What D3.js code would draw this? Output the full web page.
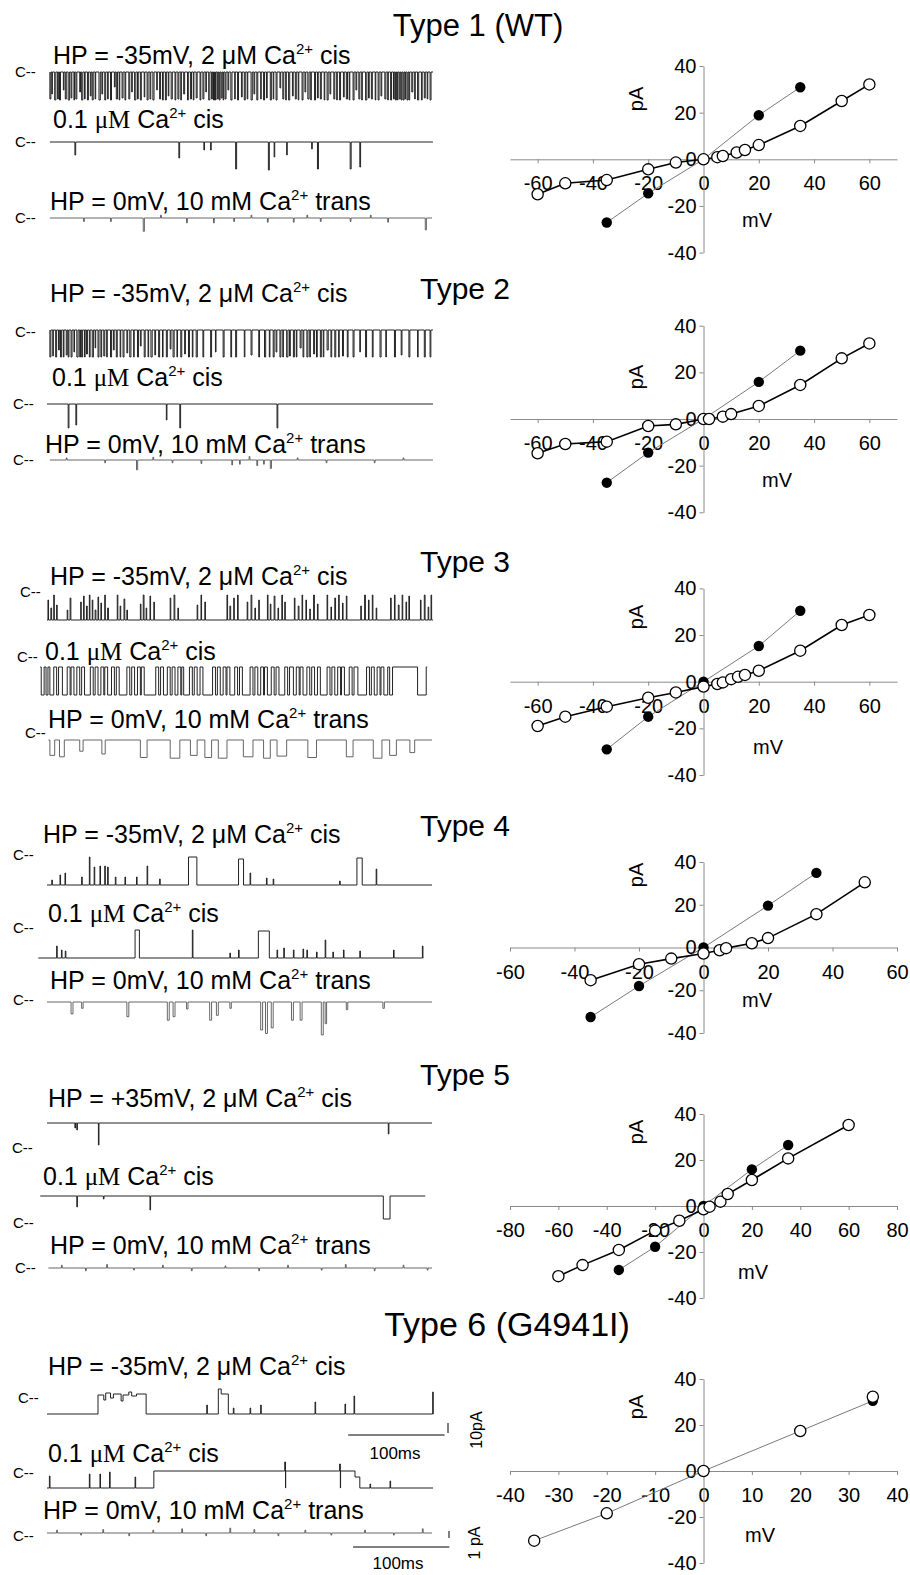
<!DOCTYPE html>
<html>
<head>
<meta charset="utf-8">
<script src="https://cdn.jsdelivr.net/npm/d3@7"></script>
<style>
  body { margin: 0; background: #fff; }
  text { font-family: "Liberation Sans", Arial, sans-serif; white-space: pre; }
</style>
</head>
<body>
<svg id="fig" width="910" height="1575"></svg>
<script>
// ---------- data ----------
const titles = ["Type 1 (WT)", "Type 2", "Type 3", "Type 4", "Type 5", "Type 6 (G4941I)"];

// trace captions (text, kind)
const textHighCa    = [["HP = -35mV, 2 \u03bcM Ca"], ["2+", "sup"], [" cis"]];
const textHighCaPos = [["HP = +35mV, 2 \u03bcM Ca"], ["2+", "sup"], [" cis"]];
const textLowCa     = [["0.1 "], ["\u03bcM", "serif"], [" Ca"], ["2+", "sup"], [" cis"]];
const textTrans     = [["HP = 0mV, 10 mM Ca"], ["2+", "sup"], [" trans"]];

// I-V curves, [mV, pA]
const iv1Open   = [[-60,-15],[-50,-10.3],[-35,-8.9],[-20,-4.3],[-10,-1.4],[0,0],[5,0.9],[7,1.4],[12,2.9],[15,4],[20,6.1],[35,14.3],[50,25],[60,32.1]];
const iv1Filled = [[-35,-27.1],[-20,-14.6],[0,0],[20,18.9],[35,30.9]];
const iv2Open   = [[-60,-14.7],[-50,-10.7],[-35,-9.7],[-20,-3],[-10,-2.3],[0,0],[2,0],[7,1],[10,2.1],[20,5.6],[35,14.6],[50,26],[60,32.4]];
const iv2Filled = [[-35,-27.3],[-20,-14.4],[0,0],[20,15.9],[35,29.3]];
const iv3Open   = [[-60,-19],[-50,-15],[-35,-10.7],[-20,-6.9],[-10,-4.6],[0,-2.1],[5,-1],[7,-0.3],[10,1.1],[12.5,2.1],[15,2.9],[20,4.7],[35,13.3],[50,24.3],[60,28.6]];
const iv3Filled = [[-35,-29],[-20,-15],[0,0],[20,15.3],[35,30.4]];
const iv4Open   = [[-35,-15.3],[-20,-7.8],[-10,-5.2],[0,-2.8],[5,-1.3],[7,-0.3],[15,2],[20,4.4],[35,15.6],[50,30.5]];
const iv4Filled = [[-35,-32.5],[-20,-18],[0,0],[20,19.6],[35,34.9]];
const iv5Open   = [[-60,-30.5],[-50,-25.7],[-35,-19.1],[-20,-10.7],[-10,-6.4],[0,-1.4],[2.5,-0.3],[7,1.9],[10,5.2],[20,11.3],[35,20.7],[60,35.2]];
const iv5Filled = [[-35,-27.8],[-20,-17.7],[0,0],[20,15.9],[35,26.5]];
const iv6Open   = [[-35,-30.3],[-20,-18.4],[0,0],[20,17.4],[35,32.3]];
const iv6Filled = [[-35,-30.3],[-20,-18.4],[0,0],[20,17.4],[35,30.5]];

const ivXDomains = [[-70,70],[-70,70],[-70,70],[-60,60],[-80,80],[-40,40]];
const ivXTicks = [
  [-60,-40,-20,0,20,40,60], [-60,-40,-20,0,20,40,60], [-60,-40,-20,0,20,40,60],
  [-60,-40,-20,0,20,40,60], [-80,-60,-40,-20,0,20,40,60,80], [-40,-30,-20,-10,0,10,20,30,40]
];
const ivYTicks = [-40,-20,0,20,40];

// single channel events: [start ms, duration ms, amplitude pA]
const t1a = [[3,1,-27],[5,.6,-22],[8,1.2,-28],[11,.8,-27],[13,1,-28],[17,.6,-18],[19,1,-27],[22,1.5,-28],[25,.8,-26],[28,.6,-28],[30,1,-27],[34,.8,-20],[36,1.2,-28],[39,.6,-27],[42,1,-28],[45,.8,-24],[47,1,-28],[50,.6,-27],[54,1.4,-28],[57,.8,-22],[60,1,-28],[63,.6,-27],[66,1,-28],[70,.8,-15],[72,1.2,-27],[75,.6,-28],[78,1,-26],[81,.8,-28],[85,1,-27],[88,.6,-20],[91,1.3,-28],[94,.8,-27],[97,1,-28],[101,.6,-25],[104,1,-28],[107,.8,-27],[110,1.2,-28],[114,.6,-18],[117,1,-27],[120,.8,-28],[123,1,-28],[126,.6,-24],[129,1.2,-27],[133,.8,-28],[136,1,-27],[139,.6,-28],[142,1,-22],[146,.8,-28],[149,1.1,-27],[152,.6,-28],[155,1,-26],[159,.8,-28],[162,1,-27],[165,.6,-20],[168,1.2,-28],[171,.8,-27],[173,1,-28],[175,.6,-28],[177,1,-27],[179,.8,-28],[181,1,-26],[183,.6,-28],[185,1,-27],[188,.8,-18],[191,1.2,-28],[195,.6,-27],[198,1,-28],[202,.8,-25],[205,1,-28],[208,.6,-27],[212,1.3,-28],[215,.8,-22],[218,1,-28],[222,.6,-27],[225,1,-28],[228,.8,-26],[232,1.1,-28],[235,.6,-27],[238,1,-28],[242,.8,-16],[245,1,-27],[248,.6,-28],[251,1.2,-28],[255,.8,-24],[258,1,-27],[261,.6,-28],[265,1,-28],[268,.8,-20],[271,1.3,-27],[274,.6,-28],[278,1,-28],[281,.8,-26],[284,1,-27],[288,.6,-28],[291,1.1,-28],[294,.8,-22],[298,1,-27],[301,.6,-28],[304,1,-28],[308,.8,-25],[311,1.2,-27],[314,.6,-28],[318,1,-28],[321,.8,-18],[324,1,-27],[327,.6,-28],[331,1.3,-28],[334,.8,-26],[337,1,-27],[341,.6,-28],[344,1,-28],[347,.8,-24],[351,1.1,-27],[354,.6,-28],[357,1,-28],[360,.8,-27],[362,1,-28],[364,.6,-28],[366,1,-27],[368,.8,-28],[370,1,-28],[372,.6,-27],[374,1,-28],[376,.8,-28],[379,1,-20],[382,.6,-27],[385,1.2,-28],[389,.8,-28],[392,1,-26],[395,.6,-27],[398,1,-28]];
const t1b = [[29,.8,-13],[137,.8,-16],[163,.6,-8],[170,.6,-8],[196,1,-27],[230,1,-28],[236,.6,-15],[249,.6,-13],[275,.6,-7],[281,1,-27],[315,1,-27],[325,.8,-25]];
const t1c = [[38,.8,-0.5],[66,.8,-0.5],[100,1.2,-1.9],[118,.8,0.4],[145,.8,-0.7],[173,.8,-0.7],[194,.8,-0.5],[212,.8,0.4],[229,.8,-0.6],[256,.8,-0.6],[270,.8,0.4],[284,.8,-0.5],[315,.8,-0.5],[336,.8,0.4],[354,.8,-0.6],[393,1.2,-1.7]];

const t2a = [[3,1,-27],[6,.6,-26],[9,1,-27],[12,.8,-20],[14,1.2,-27],[17,.6,-27],[20,1,-25],[22,.8,-27],[25,1,-27],[28,.6,-22],[31,1.3,-27],[34,.8,-27],[36,1,-27],[39,.6,-27],[41,1,-24],[44,.8,-27],[47,1.2,-27],[50,.6,-18],[53,1,-27],[56,.8,-27],[59,1,-26],[62,.6,-27],[66,1.1,-27],[69,.8,-20],[72,1,-27],[76,.6,-27],[79,1,-27],[83,.8,-23],[86,1.2,-27],[90,.6,-27],[94,1,-27],[97,.8,-16],[101,1,-27],[105,.6,-27],[108,1.3,-27],[112,.8,-25],[116,1,-27],[120,.6,-27],[124,1,-27],[128,.8,-19],[131,1.1,-27],[135,.6,-27],[139,1,-27],[143,.8,-24],[147,1,-27],[151,.6,-27],[155,1.2,-27],[162,.8,-27],[170,1,-27],[175,.6,-22],[183,1,-27],[191,.8,-27],[196,1,-27],[205,.6,-27],[212,1,-25],[220,.8,-27],[226,1.2,-27],[231,.6,-27],[235,1,-27],[238,.8,-22],[242,1,-27],[245,.6,-27],[249,1.3,-27],[252,.8,-26],[256,1,-27],[259,.6,-27],[263,1,-18],[266,.8,-27],[270,1.1,-27],[273,.6,-27],[277,1,-24],[280,.8,-27],[284,1,-27],[287,.6,-27],[291,1.2,-20],[295,.8,-27],[299,1,-27],[303,.6,-27],[307,1,-26],[312,.8,-27],[318,1,-27],[325,.6,-22],[331,1,-27],[338,.8,-27],[346,1.1,-27],[352,.6,-27],[361,1,-27],[368,.8,-25],[376,1,-27],[385,.6,-27],[392,1,-27],[398,.8,-27]];
const t2b = [[22,.8,-24],[30,.8,-21],[124,.6,-16],[138,.8,-24],[239,.8,-24]];
const t2c = [[20,.8,0.3],[60,.8,-0.4],[93,1.2,-1.4],[110,.8,0.4],[130,.8,-0.4],[160,.8,-0.5],[192,.8,-0.7],[200,.8,-0.6],[210,.8,0.5],[218,.8,-0.8],[225,.8,-0.6],[232,1.2,-1.2],[260,.8,0.3],[290,.8,-0.4],[340,.8,-0.4],[370,.8,0.3]];

const t3a = [[1,.6,20],[4,.8,12],[7,.6,25],[10,.6,15],[21,.6,10],[24,.8,22],[35,.6,18],[38,.6,24],[41,.8,14],[44,.6,25],[47,.6,20],[50,.8,10],[53,.6,23],[56,.6,17],[60,.6,25],[63,.8,12],[73,.6,25],[76,.6,14],[80,.8,21],[83,.6,10],[97,.6,16],[100,.8,25],[103,.6,12],[107,.6,24],[111,.6,18],[128,.6,22],[132,.8,25],[136,.6,12],[156,.6,15],[160,.6,25],[164,.6,18],[187,.6,25],[190,.8,14],[194,.6,22],[198,.6,25],[208,.6,18],[212,.8,25],[216,.6,12],[220,.6,20],[229,.6,25],[232,.6,16],[236,.8,24],[240,.6,12],[244,.6,25],[247,.6,18],[257,.6,22],[261,.8,14],[265,.6,25],[269,.6,20],[273,.6,11],[277,.8,25],[281,.6,16],[291,.6,25],[295,.6,13],[299,.8,22],[303,.6,25],[307,.6,17],[311,.6,24],[326,.6,14],[330,.8,25],[334,.6,20],[338,.6,25],[342,.6,12],[357,.6,22],[361,.6,25],[365,.8,15],[369,.6,25],[373,.6,18],[376,.6,24],[388,.6,20],[392,.8,25],[396,.6,13],[399,.6,25]];
const t3b = [[-6,3,-28],[-1,2,-28],[3,4,-28],[10,2,-28],[16,5,-28],[24,1,-28],[28,3,-28],[34,2,-28],[39,6,-28],[48,2,-28],[53,3,-28],[59,1,-28],[63,4,-28],[70,2,-28],[75,8,-28],[86,2,-28],[91,3,-28],[97,1,-28],[101,12,-28],[116,2,-28],[121,4,-28],[128,2,-28],[133,3,-28],[139,1,-28],[142,6,-28],[151,2,-28],[156,3,-28],[162,10,-28],[175,2,-28],[180,3,-28],[186,1,-28],[190,5,-28],[198,2,-28],[203,8,-28],[214,2,-28],[219,3,-28],[225,1,-28],[229,4,-28],[236,2,-28],[241,6,-28],[250,2,-28],[256,3,-28],[262,1,-28],[266,4,-28],[273,2,-28],[278,3,-28],[284,7,-28],[294,2,-28],[299,3,-28],[305,1,-28],[309,5,-28],[317,2,-28],[323,9,-28],[335,2,-28],[340,3,-28],[346,1,-28],[350,4,-28],[356,3,-28],[385,9,-28]];
const t3c = [[3,5,-2.2],[13,5,-2.4],[34,3.5,-1.6],[57,3.5,-2],[97,7,-2.5],[128,10,-2.6],[149,7,-2.2],[164,7,-2.5],[178,9,-2.6],[204,10,-2.4],[225,7,-2.6],[239,10,-2.3],[271,9,-2.5],[311,7,-2.4],[339,9,-2.6],[356,7,-2.2],[377,5,-1.8]];

const t4a = [[5,.6,5],[13.5,.6,10],[18.7,.6,12],[36,.6,8],[44,.6,28],[49,.6,18],[55,.6,19],[60,.6,19],[63,.6,18],[71,.6,8],[81,.6,8],[93,.6,8],[104,.6,19],[117,.6,6],[147,8.7,28],[199,5.2,26],[211,.6,12],[228,.6,7],[235,.6,6],[304,.6,4],[322,5.5,27],[342,.6,16]];
const t4b = [[10,.6,12],[15,.6,8],[19,.6,7],[91.5,4.5,28],[151,.6,28],[190,.6,5],[199,.6,8],[219.6,11.4,27],[239,.6,8],[246,.6,10],[256,.6,8],[266,.6,9],[270,.6,8],[280,.6,6],[289,.6,18],[297,.6,6],[308,.6,8],[325,.6,7],[360,.6,8],[390,.6,12]];
const t4c = [[25,2,-1.7],[36,1.5,-0.9],[83,2,-2.1],[125,2,-2.6],[131,2,-2.1],[145,1.5,-1],[169,2,-2.6],[176,2,-1.9],[190,1.5,-0.9],[222,2,-4],[227,2,-4.5],[233,2,-3.7],[254,2,-2.6],[263,2,-2.6],[285,2,-4.7],[289,1.5,-3.1],[311,1.5,-1.1],[349,1.5,-0.9]];

const t5a = [[29,.6,-5],[31,.6,-7],[53.4,.6,-22],[354.6,.6,-11]];
const t5b = [[31,.6,-11],[58.6,.6,-3],[107,.6,-14],[349.4,7,-23]];
const t5c = [[15,.8,0.4],[40,.8,-0.4],[62,.8,0.5],[90,.8,-0.3],[120,.8,0.4],[150,.8,-0.4],[185,.8,0.3],[220,.8,-0.4],[250,.8,0.4],[285,.8,-0.3],[310,.8,0.5],[340,.8,-0.4],[370,.8,0.4],[395,.8,-0.3]];

const t6a = [[53,6,19],[59,2,14],[61,5,21],[66,3,16],[69,8,20],[77,2,13],[79,6,19],[85,3,22],[88,5,18],[93,10,20],[166,.6,9],[178,3,25],[181,7.4,20],[193.6,.6,6],[211,.6,6],[222,.6,9],[278.5,.6,12],[309.6,.6,10],[319,.6,18],[400.7,.6,22]];
const t6b = [[2.5,.6,12],[44,.6,14],[55,.6,14],[65,.6,16],[91.5,.6,11],[111,136,17],[247,.8,26],[248,56,17],[304,.8,24],[305,15,17],[320,5,11],[335.6,.6,4],[356.4,.6,7]];
const t6c = [[10,.8,0.4],[35,.8,-0.3],[58,.8,0.5],[85,.8,-0.4],[110,.8,0.4],[140,.8,0.6],[165,.8,-0.4],[190,.8,0.7],[215,.8,0.5],[240,.8,-0.4],[268,.8,0.4],[295,.8,-0.3],[330,.8,0.4],[360,.8,-0.3],[390,.8,0.6]];

// recorded time windows of each trace, ms
const traceSpans = [
  [[3,401],[3,401],[3,400]],
  [[3,401],[0,401],[3,401]],
  [[0,401],[-7,395],[1.5,400]],
  [[0,400],[-9,391],[0,400]],
  [[0,400],[-7,393],[1.5,400]],
  [[0,401],[0,401],[0,400]]
];

// ---------- layout ----------
const panels = [
  { events: [t1a, t1b, t1c], texts: [textHighCa, textLowCa, textTrans], open: iv1Open, filled: iv1Filled, openLine: true,
    title: [478, 36, 31], iv: [66, 252.6], pA: 99, mV: [757, 220],
    labels: [[53,64],[53,128],[50,210]], cpos: [[15,77],[15,147],[15,223]], bases: [72,142,218] },
  { events: [t2a, t2b, t2c], texts: [textHighCa, textLowCa, textTrans], open: iv2Open, filled: iv2Filled, openLine: true,
    title: [465, 299, 30], iv: [325.7, 512.3], pA: 377, mV: [777, 480],
    labels: [[50,302],[52,386],[45,453]], cpos: [[15,337],[13,409],[13,465]], bases: [330,404,460] },
  { events: [t3a, t3b, t3c], texts: [textHighCa, textLowCa, textTrans], open: iv3Open, filled: iv3Filled, openLine: true,
    title: [465, 572, 30], iv: [588.4, 775], pA: 617, mV: [768, 747],
    labels: [[50,585],[45,660],[48,728]], cpos: [[20,597],[17,662],[25,738]], bases: [620,667,740] },
  { events: [t4a, t4b, t4c], texts: [textHighCa, textLowCa, textTrans], open: iv4Open, filled: iv4Filled, openLine: true,
    title: [465, 836, 30], iv: [862, 1033], pA: 875, mV: [757, 1000],
    labels: [[43,843],[48,922],[50,989]], cpos: [[13,860],[13,933],[13,1005]], bases: [885,958,1002] },
  { events: [t5a, t5b, t5c], texts: [textHighCaPos, textLowCa, textTrans], open: iv5Open, filled: iv5Filled, openLine: true,
    title: [465, 1085, 30], iv: [1114, 1298], pA: 1132, mV: [753, 1272],
    labels: [[48,1107],[43,1185],[50,1254]], cpos: [[12,1153],[13,1228],[15,1273]], bases: [1123,1196,1268] },
  { events: [t6a, t6b, t6c], texts: [textHighCa, textLowCa, textTrans], open: iv6Open, filled: iv6Filled, openLine: false,
    title: [507, 1336, 34], iv: [1379, 1563], pA: 1407, mV: [760, 1535],
    labels: [[48,1375],[48,1462],[43,1519]], cpos: [[18,1403],[13,1478],[13,1541]], bases: [1414,1488,1533] }
];

const svg = d3.select("#fig");
svg.append("rect").attr("width", 910).attr("height", 1575).attr("fill", "#fff");

const xT = d3.scaleLinear().domain([0, 400]).range([47, 432]);   // ms -> px
const pxPerPA = [1, 1, 7];   // channel traces / Ca trace

function richText(g, x, y, parts, size) {
  const t = g.append("text").attr("x", x).attr("y", y).attr("font-size", size).attr("fill", "#000");
  let raised = false;
  parts.forEach(([s, kind]) => {
    const ts = t.append("tspan").text(s);
    if (kind === "sup") {
      ts.attr("font-size", size * 0.6).attr("dy", -size * 0.4);
      raised = true;
    } else {
      if (raised) { ts.attr("dy", size * 0.4); raised = false; }
      if (kind === "serif") ts.attr("font-family", "'Liberation Serif', 'Times New Roman', serif");
    }
  });
}

function tracePoints(events, span) {
  const evs = events.slice().sort((a, b) => a[0] - b[0]);
  const pts = [[span[0], 0]];
  let cur = span[0];
  evs.forEach((e, i) => {
    const [t, d, a] = e;
    if (t > cur) pts.push([t, 0]);
    pts.push([t, a], [t + d, a]);
    const next = evs[i + 1];
    if (!next || next[0] > t + d) pts.push([t + d, 0]);
    cur = t + d;
  });
  pts.push([span[1], 0]);
  return pts;
}

panels.forEach((p, i) => {
  const g = svg.append("g");

  // title
  g.append("text").attr("x", p.title[0]).attr("y", p.title[1])
    .attr("text-anchor", "middle").attr("font-size", p.title[2]).text(titles[i]);

  // ---- traces ----
  p.events.forEach((ev, k) => {
    richText(g, p.labels[k][0], p.labels[k][1], p.texts[k], 25);
    g.append("text").attr("x", p.cpos[k][0]).attr("y", p.cpos[k][1])
      .attr("font-size", 15).text("C--");
    const base = p.bases[k];
    const line = d3.line()
      .x(d => xT(d[0]))
      .y(d => base - d[1] * pxPerPA[k]);
    g.append("path")
      .attr("d", line(tracePoints(ev, traceSpans[i][k])))
      .attr("fill", "none")
      .attr("stroke", k === 2 ? "#555" : "#222")
      .attr("stroke-width", k === 2 ? 0.9 : 1);
  });

  // ---- I-V plot ----
  const x = d3.scaleLinear().domain(ivXDomains[i]).range([510, 897]);
  const y = d3.scaleLinear().domain([-40, 40]).range([p.iv[1], p.iv[0]]);

  const xAxis = g.append("g").attr("transform", `translate(0,${y(0)})`)
    .call(d3.axisBottom(x).tickValues(ivXTicks[i]).tickSizeInner(4).tickSizeOuter(0).tickPadding(13)
      .tickFormat(d3.format("d")));
  const yAxis = g.append("g").attr("transform", `translate(${x(0)},0)`)
    .call(d3.axisLeft(y).tickValues(ivYTicks).tickSizeInner(4).tickSizeOuter(0).tickPadding(3)
      .tickFormat(d3.format("d")));
  [xAxis, yAxis].forEach(a => {
    a.attr("font-family", null).attr("font-size", null);
    a.select(".domain").attr("stroke", "#8a8a8a");
    a.selectAll(".tick line").attr("stroke", "#8a8a8a");
    a.selectAll(".tick text").attr("font-size", 20).attr("fill", "#000")
      .style("font-family", "'Liberation Sans', Arial, sans-serif").text(d => d3.format("d")(d).replace("\u2212", "-"));
  });

  const ivLine = d3.line().x(d => x(d[0])).y(d => y(d[1]));

  g.append("path").attr("d", ivLine(p.filled))
    .attr("fill", "none").attr("stroke", "#7a7a7a").attr("stroke-width", 1);
  g.selectAll(null).data(p.filled).enter().append("circle")
    .attr("cx", d => x(d[0])).attr("cy", d => y(d[1])).attr("r", 5.2).attr("fill", "#000");

  if (p.openLine) {
    g.append("path").attr("d", ivLine(p.open))
      .attr("fill", "none").attr("stroke", "#000").attr("stroke-width", 1.6);
  }
  g.selectAll(null).data(p.open).enter().append("circle")
    .attr("cx", d => x(d[0])).attr("cy", d => y(d[1])).attr("r", 5.6)
    .attr("fill", "#fff").attr("stroke", "#000").attr("stroke-width", 1.3);

  g.append("text").attr("transform", `translate(643,${p.pA}) rotate(-90)`)
    .attr("text-anchor", "middle").attr("font-size", 20).text("pA");
  g.append("text").attr("x", p.mV[0]).attr("y", p.mV[1] + 7)
    .attr("text-anchor", "middle").attr("font-size", 20).text("mV");
});

// ---- scale bars (type 6) ----
const sb = svg.append("g").attr("stroke", "#000").attr("stroke-width", 1);
sb.append("line").attr("x1", xT(313)).attr("x2", xT(413)).attr("y1", 1435).attr("y2", 1435);
sb.append("line").attr("x1", 448).attr("x2", 448).attr("y1", 1433).attr("y2", 1433 - 10 * pxPerPA[0]);
sb.append("line").attr("x1", xT(318)).attr("x2", xT(418)).attr("y1", 1547).attr("y2", 1547);
sb.append("line").attr("x1", 449).attr("x2", 449).attr("y1", 1538).attr("y2", 1538 - 1 * pxPerPA[2]);

svg.append("text").attr("x", 395).attr("y", 1459).attr("text-anchor", "middle").attr("font-size", 17).text("100ms");
svg.append("text").attr("x", 398).attr("y", 1569).attr("text-anchor", "middle").attr("font-size", 17).text("100ms");
svg.append("text").attr("transform", "translate(482,1430) rotate(-90)").attr("text-anchor", "middle").attr("font-size", 16).text("10pA");
svg.append("text").attr("transform", "translate(480,1543) rotate(-90)").attr("text-anchor", "middle").attr("font-size", 16).text("1 pA");
</script>
</body>
</html>
